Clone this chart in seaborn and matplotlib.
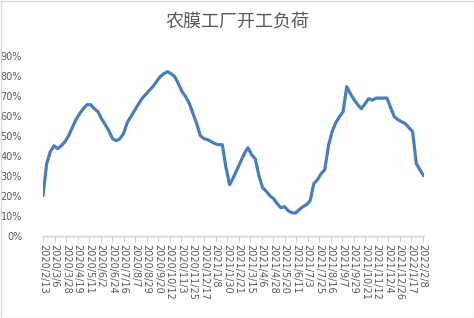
import numpy as np
import pandas as pd
import matplotlib
matplotlib.use("Agg")
import matplotlib.pyplot as plt
import matplotlib.patches as mpatches
import seaborn as sns

title = "农膜工厂开工负荷"
start_date = "2020-02-13"

load = [
    0.20, 0.36, 0.42, 0.45, 0.435, 0.45, 0.47, 0.50, 0.54, 0.58,
    0.61, 0.635, 0.655, 0.655, 0.635, 0.62, 0.585, 0.555, 0.525, 0.485,
    0.475, 0.485, 0.51, 0.565, 0.595, 0.625, 0.655, 0.685, 0.705, 0.725,
    0.745, 0.77, 0.795, 0.81, 0.82, 0.81, 0.795, 0.76, 0.72, 0.695,
    0.66, 0.61, 0.56, 0.50, 0.485, 0.48, 0.47, 0.46, 0.455, 0.455,
    0.34, 0.255, 0.29, 0.33, 0.37, 0.41, 0.44, 0.405, 0.385, 0.30,
    0.24, 0.222, 0.20, 0.185, 0.16, 0.14, 0.145, 0.125, 0.115, 0.113,
    0.13, 0.145, 0.155, 0.175, 0.26, 0.28, 0.31, 0.33, 0.45, 0.52,
    0.565, 0.595, 0.62, 0.745, 0.71, 0.68, 0.655, 0.635, 0.66, 0.685,
    0.678, 0.688, 0.688, 0.688, 0.688, 0.64, 0.595, 0.58, 0.57, 0.56,
    0.54, 0.52, 0.36, 0.33, 0.30,
]

tick_labels = [
    "2020/2/13", "2020/3/6", "2020/3/28", "2020/4/19", "2020/5/11", "2020/6/2",
    "2020/6/24", "2020/7/16", "2020/8/7", "2020/8/29", "2020/9/20", "2020/10/12",
    "2020/11/3", "2020/11/25", "2020/12/17", "2021/1/8", "2021/1/30", "2021/2/21",
    "2021/3/15", "2021/4/6", "2021/4/28", "2021/5/20", "2021/6/11", "2021/7/3",
    "2021/7/25", "2021/8/16", "2021/9/7", "2021/9/29", "2021/10/21", "2021/11/12",
    "2021/12/4", "2021/12/26", "2022/1/17", "2022/2/8",
]

y_ticks = [0.0, 0.1, 0.2, 0.3, 0.4, 0.5, 0.6, 0.7, 0.8, 0.9]

dates = pd.date_range(start_date, periods=len(load), freq="7D")
df = pd.DataFrame({"date": dates, "load": load})

sns.set_theme(style="white")
plt.rcParams["font.family"] = ["DejaVu Sans", "Noto Sans CJK SC"]

fig = plt.figure(figsize=(4.74, 3.18), dpi=100)
ax = fig.add_axes([43 / 474, (318 - 235.7) / 318, 380.6 / 474, 180 / 318])

sns.lineplot(data=df, x="date", y="load", ax=ax, color="#4A7EBB", lw=2.3)

ax.set_xlim(dates[0], dates[-1])
ax.set_ylim(0, 0.9)
ax.set_yticks(y_ticks)
ax.set_yticklabels([f"{int(round(v * 100))}%" for v in y_ticks])
tick_pos = pd.to_datetime(tick_labels, format="%Y/%m/%d")
ax.set_xticks(tick_pos)
ax.set_xticklabels(tick_labels, rotation=-90, va="top", ha="center")

ax.set_xlabel("")
ax.set_ylabel("")
for s in ["top", "right", "left"]:
    ax.spines[s].set_visible(False)
ax.spines["bottom"].set_color("#D0D0D0")
ax.spines["bottom"].set_linewidth(1.0)
ax.tick_params(axis="x", which="major", bottom=True, length=4, width=0.8,
               color="#D0D0D0", labelsize=7, labelcolor="#595959", pad=2)
ax.tick_params(axis="y", left=False, labelsize=7, labelcolor="#595959", pad=9)
ax.grid(False)

fig.text(0.5, 1 - 22 / 318, title, ha="center", va="center", fontsize=13,
         color="#595959", family=["Noto Sans CJK SC", "DejaVu Sans"])

fig.patches.append(mpatches.Rectangle((0.5 / 474, 0.5 / 318), 1 - 1 / 474, 1 - 1 / 318,
                                      transform=fig.transFigure, fill=False,
                                      edgecolor="#D9D9D9", lw=1.0))

fig.savefig("out.png", dpi=100)
